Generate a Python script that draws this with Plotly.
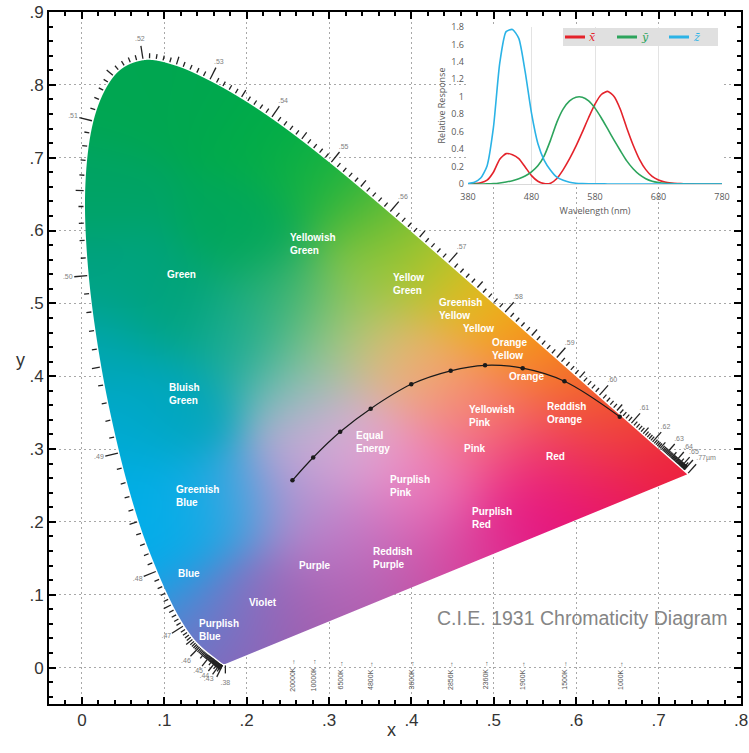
import base64
import struct
import zlib

import numpy as np
import plotly.graph_objects as go

# ---------------------------------------------------------------------------
# CIE 1931 2-degree spectral locus (chromaticity coordinates)
locus_nm = [380, 385, 390, 395, 400, 405, 410, 415, 420, 425, 430, 435, 440, 445,
            450, 455, 460, 465, 470, 475, 480, 485, 490, 495, 500, 505, 510, 515,
            520, 525, 530, 535, 540, 545, 550, 555, 560, 565, 570, 575, 580, 585,
            590, 595, 600, 605, 610, 615, 620, 625, 630, 635, 640, 645, 650, 655,
            660, 665, 670, 675, 680, 690, 700]
locus_x = [0.1741, 0.1740, 0.1738, 0.1736, 0.1733, 0.1730, 0.1726, 0.1721, 0.1714,
           0.1703, 0.1689, 0.1669, 0.1644, 0.1611, 0.1566, 0.1510, 0.1440, 0.1355,
           0.1241, 0.1096, 0.0913, 0.0687, 0.0454, 0.0235, 0.0082, 0.0039, 0.0139,
           0.0389, 0.0743, 0.1142, 0.1547, 0.1929, 0.2296, 0.2658, 0.3016, 0.3373,
           0.3731, 0.4087, 0.4441, 0.4788, 0.5125, 0.5448, 0.5752, 0.6029, 0.6270,
           0.6482, 0.6658, 0.6801, 0.6915, 0.7006, 0.7079, 0.7140, 0.7190, 0.7230,
           0.7260, 0.7283, 0.7300, 0.7311, 0.7320, 0.7327, 0.7334, 0.7344, 0.7347]
locus_y = [0.0050, 0.0050, 0.0049, 0.0049, 0.0048, 0.0048, 0.0048, 0.0048, 0.0051,
           0.0058, 0.0069, 0.0086, 0.0109, 0.0138, 0.0177, 0.0227, 0.0297, 0.0399,
           0.0578, 0.0868, 0.1327, 0.2007, 0.2950, 0.4127, 0.5384, 0.6548, 0.7502,
           0.8120, 0.8338, 0.8262, 0.8059, 0.7816, 0.7543, 0.7243, 0.6923, 0.6589,
           0.6245, 0.5896, 0.5547, 0.5202, 0.4866, 0.4544, 0.4242, 0.3965, 0.3725,
           0.3514, 0.3340, 0.3197, 0.3083, 0.2993, 0.2920, 0.2859, 0.2809, 0.2770,
           0.2740, 0.2717, 0.2700, 0.2689, 0.2680, 0.2673, 0.2666, 0.2656, 0.2653]

# CIE 1931 colour matching functions, 10 nm steps
cmf_nm = list(range(380, 790, 10))
cmf_xbar = [0.001368, 0.004243, 0.01431, 0.04351, 0.13438, 0.2839, 0.34828, 0.3362,
            0.2908, 0.19536, 0.09564, 0.03201, 0.0049, 0.0093, 0.06327, 0.1655,
            0.2904, 0.43345, 0.5945, 0.7621, 0.9163, 1.0263, 1.0622, 1.0026,
            0.85445, 0.6424, 0.4479, 0.2835, 0.1649, 0.0874, 0.04677, 0.0227,
            0.011359, 0.00579, 0.002899, 0.00144, 0.00069, 0.000332, 0.000166,
            0.000083, 0.000042]
cmf_ybar = [0.000039, 0.00012, 0.000396, 0.00121, 0.004, 0.0116, 0.023, 0.038, 0.06,
            0.09098, 0.13902, 0.20802, 0.323, 0.503, 0.71, 0.862, 0.954, 0.99495,
            0.995, 0.952, 0.87, 0.757, 0.631, 0.503, 0.381, 0.265, 0.175, 0.107,
            0.061, 0.032, 0.017, 0.00821, 0.004102, 0.002091, 0.001047, 0.00052,
            0.000249, 0.00012, 0.00006, 0.00003, 0.000015]
cmf_zbar = [0.00645, 0.02005, 0.06785, 0.2074, 0.6456, 1.3856, 1.74706, 1.77211,
            1.6692, 1.28764, 0.81295, 0.46518, 0.272, 0.1582, 0.07825, 0.04216,
            0.0203, 0.00875, 0.0039, 0.0021, 0.00165, 0.0011, 0.0008, 0.00034,
            0.00019, 0.00005, 0.00002, 0, 0, 0, 0, 0, 0, 0, 0, 0, 0, 0, 0, 0, 0]
cmf_names = ["x\u0304", "y\u0304", "z\u0304"]
cmf_colors = ["#e4232b", "#2da45c", "#2bb3e6"]

# Planckian (black body) locus points
cct_labels = ["20000K", "10000K", "6500K", "4800K", "3600K", "2856K", "2360K",
              "1900K", "1500K", "1000K"]
cct_x = [0.2555, 0.2807, 0.3135, 0.3505, 0.3997, 0.4476, 0.4893, 0.5350, 0.5857, 0.6528]
cct_y = [0.2570, 0.2884, 0.3237, 0.3555, 0.3889, 0.4074, 0.4150, 0.4111, 0.3931, 0.3444]

# Colour-region names
region_names = ["Green", "Yellowish<br>Green", "Yellow<br>Green", "Greenish<br>Yellow",
                "Yellow", "Orange<br>Yellow", "Orange", "Bluish<br>Green",
                "Yellowish<br>Pink", "Reddish<br>Orange", "Equal<br>Energy", "Pink",
                "Red", "Purplish<br>Pink", "Greenish<br>Blue", "Purplish<br>Red",
                "Reddish<br>Purple", "Purple", "Blue", "Violet", "Purplish<br>Blue"]
region_x = [0.101, 0.250, 0.375, 0.431, 0.460, 0.495, 0.516, 0.103, 0.467, 0.562,
            0.330, 0.461, 0.561, 0.371, 0.112, 0.471, 0.351, 0.261, 0.114, 0.200, 0.140]
region_y = [0.540, 0.581, 0.526, 0.492, 0.466, 0.437, 0.400, 0.375, 0.346, 0.350,
            0.310, 0.301, 0.290, 0.249, 0.236, 0.205, 0.150, 0.140, 0.129, 0.089, 0.051]

# Soft colour palette used to paint the chromaticity region (x, y, r, g, b)
fill_palette = [
    (0.172, 0.008, 150, 90, 175), (0.150, 0.030, 110, 120, 200),
    (0.125, 0.070, 40, 155, 225), (0.095, 0.140, 0, 172, 236),
    (0.065, 0.240, 0, 174, 232), (0.045, 0.330, 0, 170, 210),
    (0.025, 0.430, 0, 166, 180), (0.015, 0.540, 0, 162, 130),
    (0.015, 0.650, 0, 163, 100), (0.040, 0.780, 0, 166, 82),
    (0.080, 0.825, 0, 166, 80), (0.150, 0.800, 0, 167, 78),
    (0.230, 0.745, 0, 172, 72), (0.300, 0.685, 20, 178, 65),
    (0.360, 0.630, 80, 185, 55), (0.405, 0.585, 140, 195, 50),
    (0.440, 0.550, 185, 200, 40), (0.475, 0.515, 235, 190, 30),
    (0.510, 0.480, 245, 165, 20), (0.560, 0.430, 246, 135, 25),
    (0.610, 0.380, 243, 105, 38), (0.660, 0.330, 240, 70, 48),
    (0.725, 0.270, 237, 30, 60),
    (0.640, 0.230, 232, 20, 100), (0.560, 0.195, 228, 20, 130),
    (0.480, 0.158, 220, 55, 150), (0.400, 0.122, 195, 80, 165),
    (0.320, 0.085, 170, 92, 172), (0.250, 0.050, 160, 92, 172),
    (0.330, 0.330, 228, 178, 215), (0.290, 0.290, 200, 165, 215),
    (0.260, 0.220, 180, 145, 205), (0.180, 0.220, 60, 165, 225),
    (0.130, 0.200, 0, 175, 232), (0.120, 0.350, 0, 165, 185),
    (0.100, 0.500, 0, 163, 120), (0.200, 0.600, 0, 166, 90),
    (0.200, 0.450, 20, 170, 150), (0.250, 0.500, 40, 175, 110),
    (0.270, 0.380, 130, 190, 190), (0.300, 0.450, 170, 205, 130),
    (0.350, 0.520, 150, 200, 70), (0.380, 0.430, 225, 190, 120),
    (0.420, 0.400, 245, 165, 110), (0.470, 0.360, 245, 140, 120),
    (0.520, 0.340, 245, 110, 100), (0.600, 0.300, 238, 55, 90),
    (0.540, 0.270, 235, 30, 130), (0.450, 0.280, 240, 110, 170),
    (0.380, 0.280, 235, 150, 205), (0.400, 0.200, 225, 110, 185),
    (0.320, 0.180, 195, 130, 205), (0.320, 0.130, 180, 110, 190),
    (0.220, 0.100, 150, 110, 190), (0.180, 0.060, 130, 110, 195),
]

# ---------------------------------------------------------------------------
# Layout geometry
W, H = 749, 753
M_L, M_R, M_T, M_B = 49, 8, 12, 49
PLOT_W = W - M_L - M_R
PLOT_H = H - M_T - M_B
X_RANGE = (-0.04, 0.80)
Y_RANGE = (-0.05, 0.90)
SX = PLOT_W / (X_RANGE[1] - X_RANGE[0])   # px per unit x
SY = PLOT_H / (Y_RANGE[1] - Y_RANGE[0])   # px per unit y

nm = np.array(locus_nm, float)
lx = np.array(locus_x)
ly = np.array(locus_y)
mx = np.gradient(lx, nm)
my = np.gradient(ly, nm)


def locus_at(t):
    """Cubic Hermite curve through the spectral locus, parametrised by wavelength."""
    t = np.asarray(t, float)
    i = np.clip(np.searchsorted(nm, t, side="right") - 1, 0, len(nm) - 2)
    h = nm[i + 1] - nm[i]
    s = (t - nm[i]) / h
    h00 = 2 * s**3 - 3 * s**2 + 1
    h10 = s**3 - 2 * s**2 + s
    h01 = -2 * s**3 + 3 * s**2
    h11 = s**3 - s**2
    x = h00 * lx[i] + h10 * h * mx[i] + h01 * lx[i + 1] + h11 * h * mx[i + 1]
    y = h00 * ly[i] + h10 * h * my[i] + h01 * ly[i + 1] + h11 * h * my[i + 1]
    return x, y


# ---------------------------------------------------------------------------
# Raster of the horseshoe region
t_fine = np.arange(380.0, 700.001, 0.5)
bx, by = locus_at(t_fine)
poly_px = (bx - X_RANGE[0]) * SX
poly_py = (Y_RANGE[1] - by) * SY

COL0, NCOLS = 30, 616
ROW0, NROWS = 43, 618


def coverage_mask(px, py, sub=4):
    cov = np.zeros((NROWS, NCOLS))
    x1, y1 = px - COL0, py - ROW0
    x2, y2 = np.roll(x1, -1), np.roll(y1, -1)
    cols = np.arange(NCOLS)
    for r in range(NROWS):
        for s in range(sub):
            yc = r + (s + 0.5) / sub
            cr = ((y1 <= yc) & (y2 > yc)) | ((y2 <= yc) & (y1 > yc))
            if not cr.any():
                continue
            xs = np.sort(x1[cr] + (yc - y1[cr]) * (x2[cr] - x1[cr]) / (y2[cr] - y1[cr]))
            for a, b in zip(xs[0::2], xs[1::2]):
                cov[r] += np.clip(np.minimum(b, cols + 1) - np.maximum(a, cols), 0, 1) / sub
    return np.clip(cov, 0, 1)


alpha = coverage_mask(poly_px, poly_py)

pal = np.array(fill_palette, float)
gx = X_RANGE[0] + (COL0 + np.arange(NCOLS) + 0.5) / SX
gy = Y_RANGE[1] - (ROW0 + np.arange(NROWS) + 0.5) / SY
rgb = np.zeros((NROWS, NCOLS, 3))
sigma = 0.05
for r0 in range(0, NROWS, 60):
    yy = gy[r0:r0 + 60]
    d2 = (gx[None, :, None] - pal[None, None, :, 0]) ** 2 + \
         (yy[:, None, None] - pal[None, None, :, 1]) ** 2
    w = np.exp(-d2 / (2 * sigma**2)) + 1e-12
    rgb[r0:r0 + 60] = (w[..., None] * pal[None, None, :, 2:5]).sum(2) / w.sum(2)[..., None]

rgba = np.dstack([np.clip(rgb, 0, 255), alpha * 255]).round().astype(np.uint8)
rgba = rgba[::-1]   # first image row sits at the lowest y value


def png_uri(arr):
    h, w, _ = arr.shape
    raw = b"".join(b"\x00" + arr[i].tobytes() for i in range(h))

    def chunk(tag, data):
        return (struct.pack(">I", len(data)) + tag + data +
                struct.pack(">I", zlib.crc32(tag + data) & 0xFFFFFFFF))

    png = (b"\x89PNG\r\n\x1a\n" +
           chunk(b"IHDR", struct.pack(">IIBBBBB", w, h, 8, 6, 0, 0, 0)) +
           chunk(b"IDAT", zlib.compress(raw, 9)) + chunk(b"IEND", b""))
    return "data:image/png;base64," + base64.b64encode(png).decode()


fig = go.Figure()
fig.add_trace(go.Image(
    source=png_uri(rgba),
    x0=X_RANGE[0] + (COL0 + 0.5) / SX, dx=1 / SX,
    y0=Y_RANGE[1] - (ROW0 + NROWS - 0.5) / SY, dy=1 / SY,
    hoverinfo="skip",
))

# ---------------------------------------------------------------------------
# Wavelength tick marks along the locus
centre = np.array([0.33 * SX, 0.33 * SY])


def outward_normal(w):
    xa, ya = locus_at([w - 0.25, w + 0.25])
    tx, ty = (xa[1] - xa[0]) * SX, (ya[1] - ya[0]) * SY
    n = np.array([-ty, tx])
    n /= np.hypot(*n) + 1e-12
    x0, y0 = locus_at(w)
    if np.dot(n, np.array([x0 * SX, y0 * SY]) - centre) < 0:
        n = -n
    return float(x0), float(y0), n


tick_x, tick_y = [], []
lab_x, lab_y, lab_t = [], [], []


def add_tick(x0, y0, n, length, gap=1.5):
    tick_x.extend([x0 + n[0] * gap / SX, x0 + n[0] * (gap + length) / SX, None])
    tick_y.extend([y0 + n[1] * gap / SY, y0 + n[1] * (gap + length) / SY, None])


for w in range(420, 661):
    x0, y0, n = outward_normal(w)
    length = 13 if w % 10 == 0 else (8 if w % 5 == 0 else 5)
    add_tick(x0, y0, n, length)
    if w % 10 == 0 and 430 <= w <= 650:
        lab_x.append(x0 + n[0] * 21 / SX)
        lab_y.append(y0 + n[1] * 21 / SY)
        lab_t.append("." + str(w)[:2])

# end ticks at both ends of the locus
xs0, ys0 = locus_at(380.0)
add_tick(float(xs0), float(ys0), np.array([0.0, -1.0]), 8)
lab_x.append(float(xs0))
lab_y.append(float(ys0) - 19 / SY)
lab_t.append(".38")
xe, ye, ne = outward_normal(699.0)
add_tick(xe, ye, ne, 12)
lab_x.append(xe + ne[0] * 21 / SX + 5 / SX)
lab_y.append(ye + ne[1] * 21 / SY)
lab_t.append(".77µm")

fig.add_trace(go.Scatter(x=tick_x, y=tick_y, mode="lines",
                         line=dict(color="#222222", width=1.3),
                         hoverinfo="skip", showlegend=False))
fig.add_trace(go.Scatter(x=lab_x, y=lab_y, mode="text", text=lab_t,
                         textposition="middle center",
                         textfont=dict(family="Liberation Sans, Arial", size=7, color="#808080"),
                         hoverinfo="skip", showlegend=False))

# Planckian locus
fig.add_trace(go.Scatter(x=cct_x, y=cct_y, mode="lines+markers",
                         line=dict(color="#1a1a1a", width=1.2, shape="spline"),
                         marker=dict(color="#1a1a1a", size=4.5),
                         hoverinfo="skip", showlegend=False))

# ---------------------------------------------------------------------------
# Colour matching function inset
for name, color, vals in zip(cmf_names, cmf_colors, (cmf_xbar, cmf_ybar, cmf_zbar)):
    fig.add_trace(go.Scatter(
        x=cmf_nm, y=vals, mode="lines", xaxis="x2", yaxis="y2", name=name,
        line=dict(color=color, width=1.6, shape="spline", smoothing=0.6),
        hoverinfo="skip", showlegend=False,
    ))

INSET_XDOM = ((468 - M_L) / PLOT_W, (722 - M_L) / PLOT_W)
INSET_YDOM = ((M_T + PLOT_H - 184) / PLOT_H, (M_T + PLOT_H - 27) / PLOT_H)


def px_to_dom(px, py):
    paper_x = (px - M_L) / PLOT_W
    paper_y = (M_T + PLOT_H - py) / PLOT_H
    return ((paper_x - INSET_XDOM[0]) / (INSET_XDOM[1] - INSET_XDOM[0]),
            (paper_y - INSET_YDOM[0]) / (INSET_YDOM[1] - INSET_YDOM[0]))


shapes = []
bx0, by0 = px_to_dom(428, 221)
bx1, by1 = px_to_dom(733, 20)
shapes.append(dict(type="rect", xref="x2 domain", yref="y2 domain", x0=bx0, x1=bx1,
                   y0=by0, y1=by1, fillcolor="white", line=dict(width=0), layer="below"))

# key for the inset curves
annotations = []
kx0, ky0 = px_to_dom(563, 46)
kx1, ky1 = px_to_dom(718, 28)
shapes.append(dict(type="rect", xref="x2 domain", yref="y2 domain", x0=kx0, x1=kx1,
                   y0=ky0, y1=ky1, fillcolor="#e0e0e0", line=dict(width=0), layer="above"))
for k, (name, color) in enumerate(zip(cmf_names, cmf_colors)):
    left = 565 + 52 * k
    sx0, sy = px_to_dom(left, 37)
    sx1, _ = px_to_dom(left + 20, 37)
    tx, _ = px_to_dom(left + 22, 37)
    shapes.append(dict(type="line", xref="x2 domain", yref="y2 domain", x0=sx0, x1=sx1,
                       y0=sy, y1=sy, line=dict(color=color, width=3), layer="above"))
    annotations.append(dict(x=tx, y=sy, xref="x2 domain", yref="y2 domain",
                            text=f"<i>{name}</i>", showarrow=False, xanchor="left",
                            yanchor="middle",
                            font=dict(family="DejaVu Serif", size=11, color=color)))

for name, x, y in zip(region_names, region_x, region_y):
    annotations.append(dict(x=x, y=y, xref="x", yref="y", text=f"<b>{name}</b>",
                            showarrow=False, xanchor="left", yanchor="middle", align="left",
                            font=dict(family="Liberation Sans, Arial", size=10, color="white")))
for lbl, x in zip(cct_labels, cct_x):
    annotations.append(dict(x=x, y=-0.0105, xref="x", yref="y", text=f"{lbl} \u2192",
                            textangle=-90, showarrow=False,
                            font=dict(family="Liberation Sans, Arial", size=7, color="#555555")))
annotations += [
    dict(x=0.428, y=0.0686, xref="x", yref="y", text="C.I.E. 1931 Chromaticity Diagram",
         showarrow=False, xanchor="left", yanchor="middle",
         font=dict(family="Liberation Sans, Arial", size=19.5, color="#858585")),
    dict(x=(14 - M_L) / PLOT_W, y=(M_T + PLOT_H - 360) / PLOT_H, xref="paper", yref="paper",
         text="y", showarrow=False, font=dict(family="Liberation Sans, Arial", size=18, color="#333")),
    dict(x=(391 - M_L) / PLOT_W, y=(M_T + PLOT_H - 742) / PLOT_H, xref="paper", yref="paper",
         text="x", showarrow=False, font=dict(family="Liberation Sans, Arial", size=18, color="#333")),
]

main_axis = dict(showline=True, linewidth=2, linecolor="black", mirror="allticks",
                 ticks="inside", ticklen=7, tickwidth=1.5, tickcolor="black",
                 showgrid=True, gridcolor="#a8a8a8", griddash="2px,3px", gridwidth=1,
                 zeroline=False, tickfont=dict(family="Liberation Sans, Arial", size=17, color="#333"),
                 autorange=False, scaleanchor=False, constrain="range")

fig.update_layout(
    width=W, height=H,
    margin=dict(l=M_L, r=M_R, t=M_T, b=M_B, autoexpand=False),
    paper_bgcolor="white", plot_bgcolor="white", showlegend=False,
    xaxis=dict(range=list(X_RANGE), tickvals=[i / 10 for i in range(9)],
               ticktext=["0"] + [f".{i}" for i in range(1, 9)],
               minor=dict(dtick=0.02, tick0=0, ticks="inside", ticklen=4, tickcolor="black",
                          showgrid=False),
               **main_axis),
    yaxis=dict(range=list(Y_RANGE), tickvals=[i / 10 for i in range(10)],
               ticktext=["0"] + [f".{i}" for i in range(1, 10)],
               minor=dict(dtick=0.02, tick0=0, ticks="inside", ticklen=4, tickcolor="black",
                          showgrid=False),
               **main_axis),
    xaxis2=dict(domain=list(INSET_XDOM), anchor="y2", range=[380, 780],
                tickvals=[380, 480, 580, 680, 780], ticks="", showgrid=True,
                gridcolor="#e3e3e3", zeroline=False, showline=True, linecolor="#d9d9d9",
                ticklabelstandoff=4,
                tickfont=dict(family="Open Sans, Liberation Sans", size=9, color="#595959"),
                title=dict(text="Wavelength (nm)", standoff=5,
                           font=dict(family="Open Sans, Liberation Sans", size=9, color="#595959"))),
    yaxis2=dict(domain=list(INSET_YDOM), anchor="x2", range=[0, 1.8], dtick=0.2, tick0=0,
                ticks="", showgrid=False, zeroline=False, showline=False,
                ticklabelstandoff=3,
                tickfont=dict(family="Open Sans, Liberation Sans", size=9, color="#595959"),
                title=dict(text="Relative Response", standoff=4,
                           font=dict(family="Open Sans, Liberation Sans", size=9, color="#595959"))),
    shapes=shapes,
    annotations=annotations,
)

fig.write_html("out.html")
